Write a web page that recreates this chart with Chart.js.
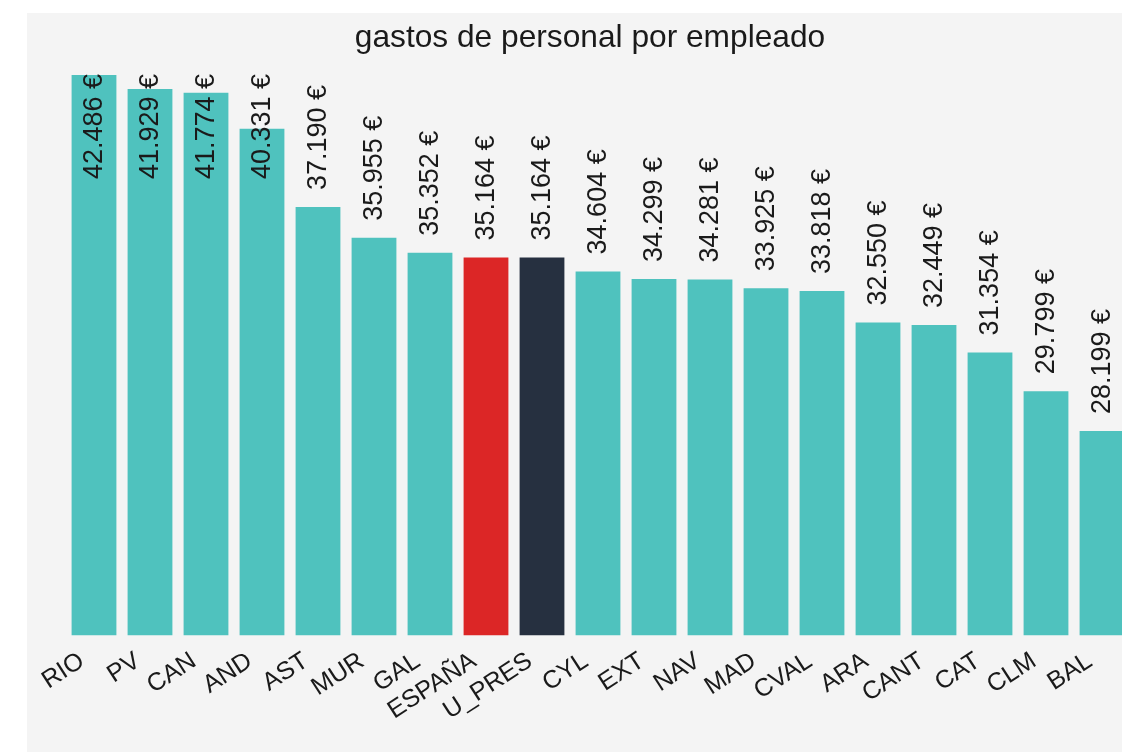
<!DOCTYPE html>
<html>
<head>
<meta charset="utf-8">
<script src="https://cdn.jsdelivr.net/npm/chart.js@4.4.1/dist/chart.umd.min.js"></script>
<style>
  html, body { margin: 0; padding: 0; background: #fff; overflow: hidden; }
  #wrap {
    position: absolute; left: 27px; top: 13px;
    width: 1130px; height: 739px;
    background: #f4f4f4;
  }
</style>
</head>
<body>
<div id="wrap"><canvas id="gastosChart"></canvas></div>
<script>
// gastos de personal por empleado, por comunidad
const titulo = 'gastos de personal por empleado';
const regiones = ['RIO', 'PV', 'CAN', 'AND', 'AST', 'MUR', 'GAL', 'ESPAÑA', 'U_PRES', 'CYL',
  'EXT', 'NAV', 'MAD', 'CVAL', 'ARA', 'CANT', 'CAT', 'CLM', 'BAL'];
const gastos = [42486, 41929, 41774, 40331, 37190, 35955, 35352, 35164, 35164, 34604,
  34299, 34281, 33925, 33818, 32550, 32449, 31354, 29799, 28199];

const colorBase = '#4fc2be';
const colorEspana = '#dc2626';
const colorUPres = '#263040';

const barColors = regiones.map(r => r === 'ESPAÑA' ? colorEspana : (r === 'U_PRES' ? colorUPres : colorBase));

const formatEuro = (v) => v.toLocaleString('de-DE') + ' €';
const fontFamily = '"Liberation Sans", Arial, sans-serif';

// título centrado sobre todo el lienzo
const tituloPlugin = {
    id: 'tituloPlugin',
    afterDraw(chart) {
        const { ctx } = chart;
        ctx.save();
        ctx.font = '31.7px ' + fontFamily;
        ctx.fillStyle = '#1a1a1a';
        ctx.textAlign = 'center';
        ctx.textBaseline = 'alphabetic';
        ctx.fillText(titulo, chart.width / 2 - 2, 34);
        ctx.restore();
    }
};

// etiquetas verticales encima de cada barra
const valueLabels = {
    id: 'valueLabels',
    afterDatasetsDraw(chart) {
        const { ctx, chartArea } = chart;
        const meta = chart.getDatasetMeta(0);
        ctx.save();
        ctx.font = '27px ' + fontFamily;
        ctx.fillStyle = '#1a1a1a';
        ctx.textBaseline = 'middle';
        ctx.textAlign = 'left';
        meta.data.forEach((bar, i) => {
            const text = formatEuro(gastos[i]);
            const w = ctx.measureText(text).width;
            let start = bar.y - 17;
            if (start - w < chartArea.top - 1) start = chartArea.top - 1 + w;
            ctx.save();
            ctx.translate(bar.x + 1, start);
            ctx.rotate(-Math.PI / 2);
            ctx.fillText(text, 0, 0);
            ctx.restore();
        });
        ctx.restore();
    }
};

new Chart(document.getElementById('gastosChart'), {
    type: 'bar',
    data: {
        labels: regiones,
        datasets: [{
            data: gastos,
            backgroundColor: barColors,
            borderWidth: 0,
            barPercentage: 1,
            categoryPercentage: 0.8
        }]
    },
    options: {
        responsive: true,
        maintainAspectRatio: false,
        animation: false,
        layout: { padding: { top: 62, left: 39, right: 27, bottom: 23 } },
        plugins: {
            legend: { display: false },
            tooltip: { enabled: false },
            title: { display: false }
        },
        scales: {
            x: {
                grid: { display: false },
                border: { display: false },
                ticks: {
                    color: '#1a1a1a',
                    font: { family: fontFamily, size: 25 },
                    minRotation: 33,
                    maxRotation: 33,
                    labelOffset: -12,
                    autoSkip: false
                }
            },
            y: {
                display: false,
                min: 20000,
                max: Math.max(...gastos)
            }
        }
    },
    plugins: [valueLabels, tituloPlugin]
});
</script>
</body>
</html>
